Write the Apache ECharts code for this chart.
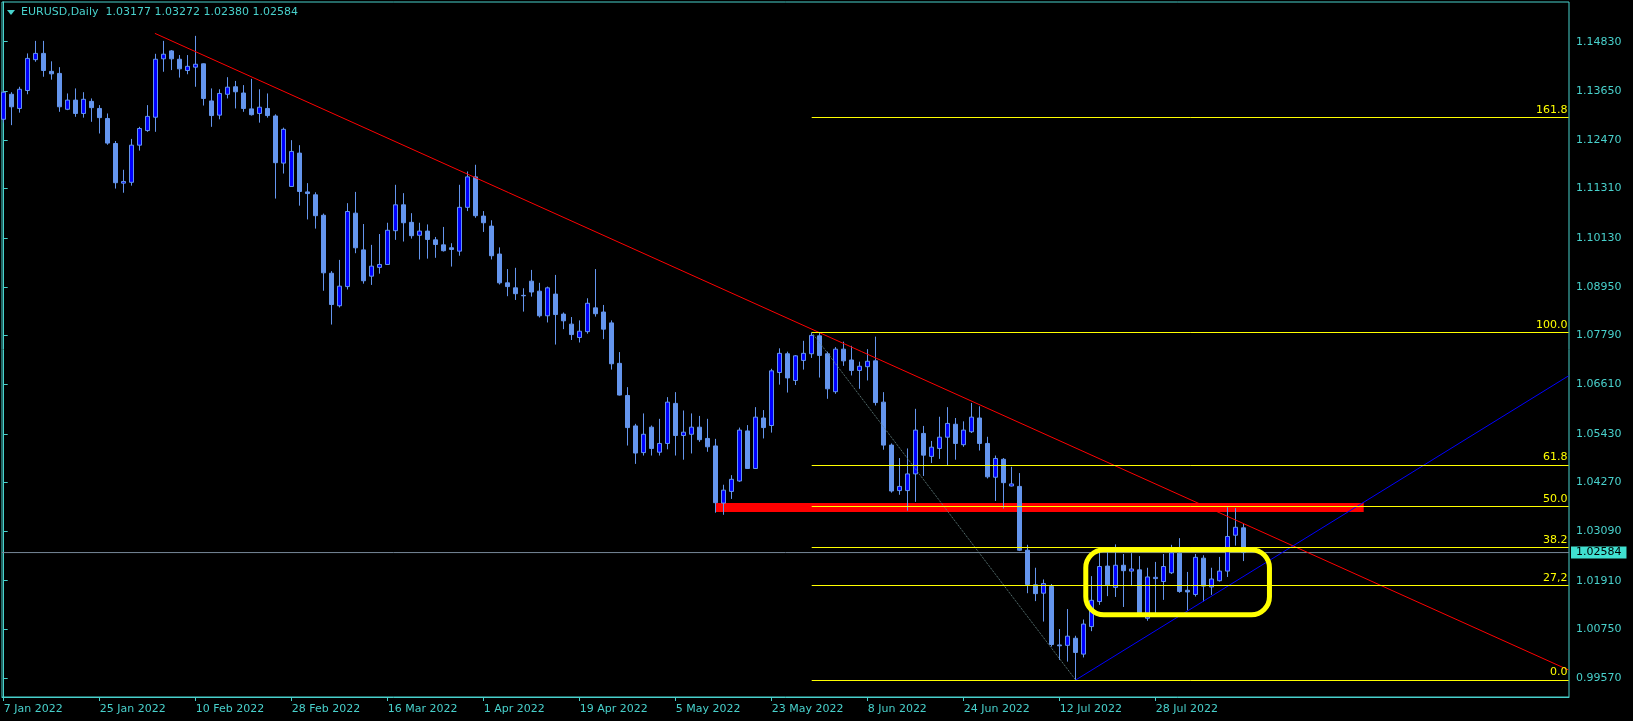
<!DOCTYPE html>
<html>
<head>
<meta charset="utf-8">
<script src="https://cdn.jsdelivr.net/npm/echarts@6/dist/echarts.min.js"></script>
<style>
html,body{margin:0;padding:0;background:#000;}
#c{width:1633px;height:721px;}
</style>
</head>
<body>
<div id="c"></div>
<script>
// ---- Data (EURUSD Daily, bar index 0 = 7 Jan 2022) ----
const symbolTitle = 'EURUSD,Daily';
const opens = [1.1297,1.1357,1.1323,1.1366,1.1440,1.1455,1.1412,1.1407,1.1321,1.1343,1.1311,1.1340,1.1323,1.1299,1.1239,1.1144,1.1146,1.1235,1.1270,1.1302,
1.1442,1.1461,1.1441,1.1414,1.1422,1.1430,1.1341,1.1307,1.1357,1.1375,1.1360,1.1322,1.1311,1.1323,1.1305,1.1192,1.1136,1.1216,1.1123,1.1116,
1.1067,1.0928,1.0850,1.0896,1.1072,1.0984,1.0921,1.0942,1.0949,1.1030,1.1092,1.1050,1.1019,1.1029,1.1008,1.0996,1.0989,1.0981,1.1086,1.1159,
1.1065,1.1041,1.0974,1.0905,1.0893,1.0875,1.0909,1.0885,1.0826,1.0878,1.0830,1.0806,1.0774,1.0788,1.0845,1.0835,1.0809,1.0712,1.0635,1.0562,
1.0498,1.0559,1.0499,1.0520,1.0616,1.0539,1.0542,1.0559,1.0532,1.0514,1.0377,1.0405,1.0430,1.0550,1.0460,1.0581,1.0563,1.0690,1.0735,1.0671,
1.0719,1.0735,1.0778,1.0735,1.0644,1.0746,1.0720,1.0695,1.0704,1.0718,1.0619,1.0516,1.0407,1.0407,1.0447,1.0544,1.0489,1.0508,1.0535,1.0566,
1.0517,1.0548,1.0581,1.0520,1.0439,1.0482,1.0418,1.0417,1.0264,1.0181,1.0161,1.0177,1.0037,1.0036,1.0053,1.0015,1.0081,1.0141,1.0226,1.0175,
1.0228,1.0214,1.0217,1.0101,1.0196,1.0189,1.0210,1.0257,1.0168,1.0158,1.0245,1.0176,1.0191,1.0214,1.0300,1.03177];
const highs = [1.1367,1.1362,1.1375,1.1455,1.1485,1.1485,1.1436,1.1422,1.1359,1.1371,1.1362,1.1347,1.1331,1.1311,1.1245,1.1176,1.1250,1.1279,1.1331,1.1454,
1.1485,1.1463,1.1451,1.1451,1.1497,1.1431,1.1371,1.1369,1.1398,1.1389,1.1379,1.1394,1.1369,1.1359,1.1309,1.1277,1.1247,1.1235,1.1144,1.1122,
1.1071,1.0933,1.0960,1.1096,1.1123,1.1046,1.0996,1.1022,1.1049,1.1140,1.1120,1.1072,1.1049,1.1045,1.1015,1.1039,1.1000,1.1140,1.1172,1.1188,
1.1077,1.1055,1.0990,1.0938,1.0941,1.0892,1.0936,1.0905,1.0896,1.0924,1.0834,1.0823,1.0815,1.0868,1.0938,1.0852,1.0815,1.0739,1.0655,1.0567,
1.0592,1.0563,1.0579,1.0631,1.0643,1.0599,1.0592,1.0586,1.0579,1.0531,1.0421,1.0444,1.0558,1.0564,1.0607,1.0600,1.0699,1.0748,1.0740,1.0732,
1.0766,1.0786,1.0786,1.0740,1.0751,1.0764,1.0754,1.0716,1.0746,1.0776,1.0643,1.0520,1.0485,1.0508,1.0603,1.0562,1.0526,1.0584,1.0607,1.0581,
1.0573,1.0617,1.0609,1.0536,1.0491,1.0485,1.0464,1.0449,1.0277,1.0222,1.0194,1.0183,1.0075,1.0123,1.0059,1.0098,1.0202,1.0267,1.0262,1.0278,
1.0255,1.0257,1.0250,1.0222,1.0236,1.0255,1.0277,1.0293,1.0212,1.0255,1.0252,1.0222,1.0248,1.0367,1.0365,1.03272];
const lows = [1.1289,1.1283,1.1313,1.1357,1.1435,1.1399,1.1392,1.1315,1.1319,1.1303,1.1301,1.1291,1.1263,1.1236,1.1131,1.1121,1.1138,1.1222,1.1267,1.1267,
1.1411,1.1415,1.1397,1.1405,1.1375,1.1330,1.1279,1.1297,1.1347,1.1323,1.1315,1.1306,1.1289,1.1301,1.1107,1.1167,1.1136,1.1090,1.1057,1.1035,
1.0886,1.0805,1.0846,1.0889,1.0976,1.0903,1.0900,1.0927,1.0948,1.1008,1.1004,1.1011,1.0961,1.0963,1.0965,1.0980,1.0944,1.0970,1.1077,1.1061,
1.1027,1.0961,1.0901,1.0873,1.0864,1.0836,1.0872,1.0822,1.0810,1.0757,1.0794,1.0768,1.0762,1.0783,1.0824,1.0770,1.0697,1.0635,1.0515,1.0471,
1.0491,1.0491,1.0491,1.0506,1.0491,1.0481,1.0496,1.0524,1.0500,1.0354,1.0349,1.0387,1.0428,1.0459,1.0459,1.0532,1.0546,1.0661,1.0642,1.0660,
1.0697,1.0725,1.0678,1.0627,1.0639,1.0706,1.0683,1.0651,1.0671,1.0611,1.0505,1.0402,1.0397,1.0359,1.0380,1.0442,1.0473,1.0483,1.0468,1.0481,
1.0512,1.0545,1.0503,1.0436,1.0382,1.0364,1.0417,1.0262,1.0161,1.0142,1.0093,1.0033,1.0001,0.9997,0.9953,1.0007,1.0070,1.0133,1.0154,1.0152,
1.0128,1.0178,1.0109,1.0095,1.0113,1.0145,1.0207,1.0162,1.0120,1.0153,1.0141,1.0157,1.0189,1.0200,1.0275,1.02380];
const closes = [1.1362,1.1327,1.1369,1.1443,1.1455,1.1414,1.1406,1.1327,1.1343,1.1311,1.1345,1.1325,1.1301,1.1240,1.1145,1.1148,1.1235,1.1275,1.1304,1.1441,
1.1453,1.1442,1.1418,1.1424,1.1429,1.1347,1.1306,1.1359,1.1374,1.1363,1.1323,1.1308,1.1326,1.1306,1.1193,1.1273,1.1220,1.1124,1.1119,1.1066,
1.0929,1.0853,1.0897,1.1076,1.0989,1.0910,1.0945,1.0949,1.1031,1.1092,1.1049,1.1018,1.1029,1.1009,1.0997,1.0982,1.0985,1.1086,1.1159,1.1066,
1.1049,1.0970,1.0905,1.0896,1.0879,1.0874,1.0883,1.0826,1.0893,1.0829,1.0814,1.0781,1.0789,1.0856,1.0831,1.0794,1.0711,1.0636,1.0558,1.0497,
1.0542,1.0508,1.0520,1.0619,1.0539,1.0547,1.0559,1.0529,1.0512,1.0378,1.0408,1.0434,1.0552,1.0460,1.0583,1.0558,1.0694,1.0736,1.0677,1.0730,
1.0736,1.0779,1.0731,1.0651,1.0746,1.0718,1.0695,1.0705,1.0717,1.0618,1.0516,1.0406,1.0417,1.0447,1.0552,1.0492,1.0511,1.0535,1.0568,1.0520,
1.0552,1.0583,1.0520,1.0440,1.0484,1.0426,1.0423,1.0264,1.0182,1.0160,1.0184,1.0038,1.0035,1.0058,1.0019,1.0087,1.0144,1.0225,1.0181,1.0228,
1.0215,1.0219,1.0113,1.0200,1.0199,1.0225,1.0258,1.0165,1.0164,1.0247,1.0178,1.0195,1.0214,1.0297,1.0319,1.02584];

// axis ticks
const xTickIdx = [0,12,24,36,48,60,72,84,96,108,120,132,144];
const xTickLabels = ['7 Jan 2022','25 Jan 2022','10 Feb 2022','28 Feb 2022','16 Mar 2022','1 Apr 2022','19 Apr 2022','5 May 2022','23 May 2022','8 Jun 2022','24 Jun 2022','12 Jul 2022','28 Jul 2022'];
const yTicks = [0.99570,1.00750,1.01910,1.03090,1.04270,1.05430,1.06610,1.07790,1.08950,1.10130,1.11310,1.12470,1.13650,1.14830];

// drawn objects (bar index, price)
const redTrend = [[18.9, 1.1503], [195.6, 0.9977]];
const blueTrend = [[134, 0.9953], [195.6, 1.0682]];
const fibHigh = [101, 1.07864];
const fibLow = [134, 0.99530];
const fibLevels = [0, 27.2, 38.2, 50, 61.8, 100, 161.8];
const fibLabels = ['0.0', '27,2', '38.2', '50.0', '61.8', '100.0', '161.8'];
const redZone = [[89, 1.03773, 170, 1.03557]];
const rangeBox = [[135.26, 1.02651, 158.22, 1.01093]];
const lastPrice = closes[closes.length - 1];

const xMin = -0.2125, xMax = 195.6625;
const yMin = 0.99122, yMax = 1.15782;

const AX = '#48D1CC';
const FONT = 'DejaVu Sans';

const candles = opens.map((o, i) => [i, o, closes[i], lows[i], highs[i]]);
const fibRange = fibHigh[1] - fibLow[1];
const fibLines = fibLevels.map((lv, k) => {
  const p = fibLow[1] + fibRange * lv / 100;
  return [{ name: fibLabels[k], coord: [fibHigh[0], p] }, { coord: [xMax - 0.05, p] }];
});

const chart = echarts.init(document.getElementById('c'), null, { renderer: 'canvas' });
const f5 = v => v.toFixed(5);

chart.setOption({
  backgroundColor: '#000',
  animation: false,
  title: {
    text: symbolTitle + '  ' + [opens, highs, lows, closes].map(a => f5(a[a.length - 1])).join(' '),
    left: 21, top: 7, padding: 0,
    textStyle: { color: AX, fontSize: 11, fontWeight: 'normal', fontFamily: FONT }
  },
  graphic: [{
    type: 'polygon', shape: { points: [[7, 10], [15, 10], [11, 15]] }, style: { fill: AX }
  }],
  grid: { left: 2, right: 64, top: 2, bottom: 24, show: true, borderColor: AX, borderWidth: 1, backgroundColor: '#000' },
  xAxis: {
    type: 'value', min: xMin, max: xMax,
    axisLine: { show: true, lineStyle: { color: AX } },
    axisTick: { show: true, length: 4, customValues: xTickIdx, lineStyle: { color: AX } },
    axisLabel: {
      customValues: xTickIdx, align: 'left', margin: 7, color: AX, fontSize: 11, fontFamily: FONT,
      formatter: v => { const k = xTickIdx.indexOf(Math.round(v)); return k >= 0 ? xTickLabels[k] : ''; }
    },
    splitLine: { show: false }
  },
  yAxis: {
    type: 'value', position: 'right', min: yMin, max: yMax, scale: true,
    axisLine: { show: true, lineStyle: { color: AX } },
    axisTick: { show: true, length: 4, customValues: yTicks, lineStyle: { color: AX } },
    axisLabel: { customValues: yTicks, margin: 7, color: AX, fontSize: 11, fontFamily: FONT, formatter: v => f5(v) },
    splitLine: { show: false }
  },
  series: [
    {
      name: 'zone', type: 'custom', z: 1, clip: true,
      encode: { x: [0, 2], y: [1, 3] },
      data: redZone,
      renderItem: (params, api) => {
        const a = api.coord([api.value(0), api.value(1)]);
        const b = api.coord([api.value(2), api.value(3)]);
        return { type: 'rect', shape: { x: Math.min(a[0], b[0]), y: Math.min(a[1], b[1]), width: Math.abs(b[0] - a[0]), height: Math.abs(b[1] - a[1]) }, style: { fill: '#FF0000' } };
      }
    },
    {
      name: 'priceLine', type: 'line', z: 2, symbol: 'none', silent: true,
      data: [[xMin, lastPrice], [xMax, lastPrice]],
      lineStyle: { color: '#778899', width: 1 }
    },
    {
      name: 'EURUSD', type: 'candlestick', z: 3, barWidth: 5, clip: true,
      encode: { x: 0, y: [1, 2, 3, 4] },
      data: candles,
      itemStyle: {
        color: '#0000FF', color0: '#6495ED',
        borderColor: '#6495ED', borderColor0: '#6495ED', borderColorDoji: '#6495ED', borderWidth: 1
      }
    },
    {
      name: 'fibDiag', type: 'line', z: 4, symbol: 'none', silent: true,
      data: [fibHigh, fibLow],
      lineStyle: { color: '#6A8A8A', width: 1, type: 'dotted' },
      markLine: {
        silent: true, symbol: ['none', 'none'],
        lineStyle: { color: '#FFFF00', width: 1, type: 'solid' },
        label: { show: true, position: 'insideEndTop', formatter: '{b}', color: '#FFFF00', fontSize: 11, fontFamily: FONT, distance: [1, 2] },
        data: fibLines
      }
    },
    {
      name: 'redTrend', type: 'line', z: 4, symbol: 'none', silent: true,
      data: redTrend, lineStyle: { color: '#FF0000', width: 1 }
    },
    {
      name: 'blueTrend', type: 'line', z: 4, symbol: 'none', silent: true,
      data: blueTrend, lineStyle: { color: '#0000FF', width: 1 }
    },
    {
      name: 'box', type: 'custom', z: 5,
      encode: { x: [0, 2], y: [1, 3] },
      data: rangeBox,
      renderItem: (params, api) => {
        const a = api.coord([api.value(0), api.value(1)]);
        const b = api.coord([api.value(2), api.value(3)]);
        return { type: 'rect', shape: { x: Math.min(a[0], b[0]), y: Math.min(a[1], b[1]), width: Math.abs(b[0] - a[0]), height: Math.abs(b[1] - a[1]), r: 18 }, style: { fill: 'none', stroke: '#FFFF00', lineWidth: 5 } };
      }
    },
    {
      name: 'priceTag', type: 'custom', z: 6, clip: false,
      encode: { x: 0, y: 1 },
      data: [[xMax, lastPrice]],
      renderItem: (params, api) => {
        const p = api.coord([api.value(0), api.value(1)]);
        return {
          type: 'text', x: p[0] + 2, y: p[1],
          style: {
            text: f5(api.value(1)), fill: '#000', backgroundColor: '#40E0D0',
            padding: [0, 5, 0, 5], align: 'left', verticalAlign: 'middle',
            fontSize: 11, fontFamily: FONT, lineHeight: 12
          }
        };
      }
    }
  ]
});
</script>
</body>
</html>
